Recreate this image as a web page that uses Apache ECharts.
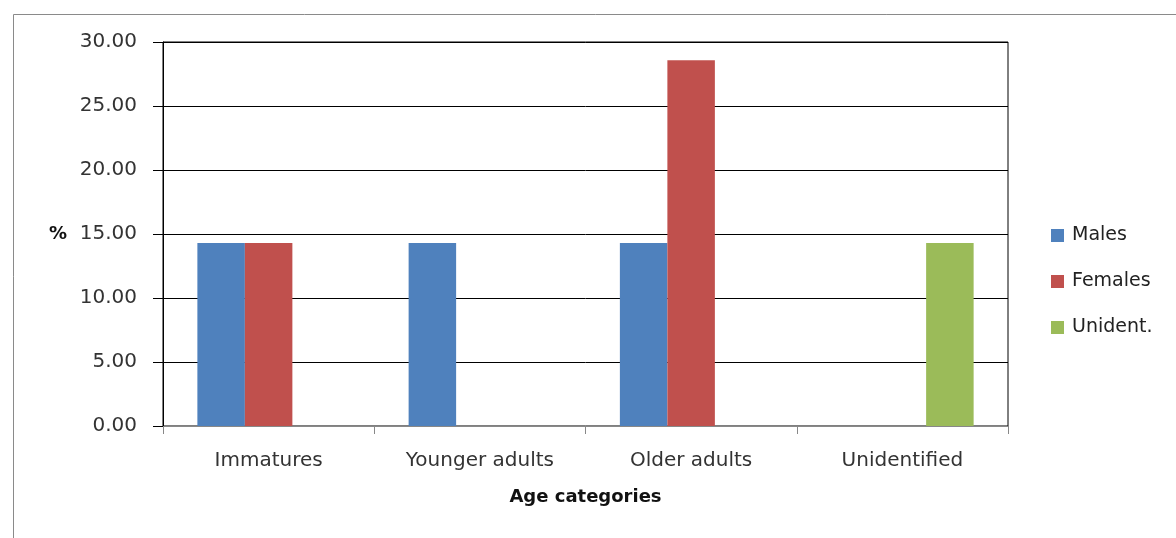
<!DOCTYPE html>
<html>
<head>
<meta charset="utf-8">
<script src="https://cdn.jsdelivr.net/npm/echarts@6/dist/echarts.min.js"></script>
<style>html,body{margin:0;padding:0;background:#fff}#c{width:1176px;height:538px}</style>
</head>
<body>
<div id="c"></div>
<script>
const categories = ['Immatures', 'Younger adults', 'Older adults', 'Unidentified'];
const males = [14.29, 14.29, 14.29, 0];
const females = [14.29, 0, 28.57, 0];
const unident = [0, 0, 0, 14.29];
const yTicks = [0, 5, 10, 15, 20, 25, 30];

const chart = echarts.init(document.getElementById('c'), null, {renderer: 'canvas'});
const font = 'DejaVu Sans';
chart.setOption({
  animation: false,
  backgroundColor: '#fff',
  graphic: [{
    type: 'rect', shape: {x: 13.5, y: 14.5, width: 1300, height: 700},
    style: {fill: 'none', stroke: '#8a8a8a', lineWidth: 1}, z: -1
  }],
  grid: {left: 163, right: 168, top: 42, bottom: 112, show: true, borderColor: '#000', borderWidth: 1},
  legend: {
    orient: 'vertical', left: 1051, top: 225, padding: 0, itemWidth: 13, itemHeight: 13, itemGap: 25,
    icon: 'rect',
    textStyle: {fontFamily: font, fontSize: 19, color: '#222', lineHeight: 21, padding: [0, 0, 0, 3]},
    data: ['Males', 'Females', 'Unident.']
  },
  xAxis: {
    type: 'category', data: categories,
    name: 'Age categories', nameLocation: 'middle', nameGap: 62,
    nameTextStyle: {fontFamily: font, fontSize: 18, fontWeight: 'bold', color: '#111'},
    axisLine: {lineStyle: {color: '#888', width: 1}},
    axisTick: {show: true, length: 8, lineStyle: {color: '#888'}},
    axisLabel: {fontFamily: font, fontSize: 20, color: '#333', margin: 25}
  },
  yAxis: {
    type: 'value', min: 0, max: 30, interval: 5,
    name: '%', nameLocation: 'middle', nameRotate: 0, nameGap: 96,
    nameTextStyle: {fontFamily: font, fontSize: 18, fontWeight: 'bold', color: '#111', padding: [12, 0, 0, 0]},
    axisLine: {show: true, lineStyle: {color: '#000', width: 1}},
    axisTick: {show: true, length: 10, inside: false, lineStyle: {color: '#000'}},
    splitLine: {show: true, lineStyle: {color: '#000', width: 1}},
    axisLabel: {fontFamily: font, fontSize: 20, color: '#333', margin: 26,
      formatter: v => yTicks.includes(v) ? v.toFixed(2) : ''}
  },
  series: [
    {name: 'Males', type: 'bar', data: males, barWidth: 47.5, barGap: '0%', itemStyle: {color: '#4F81BD'}},
    {name: 'Females', type: 'bar', data: females, barWidth: 47.5, barGap: '0%', itemStyle: {color: '#C0504D'}},
    {name: 'Unident.', type: 'bar', data: unident, barWidth: 47.5, barGap: '0%', itemStyle: {color: '#9BBB59'}}
  ]
});
</script>
</body>
</html>
